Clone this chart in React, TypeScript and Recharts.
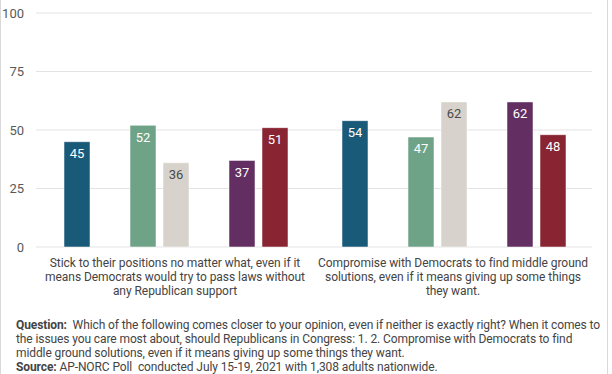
import React from "react";
import { BarChart, Bar, XAxis, YAxis, CartesianGrid, LabelList } from "recharts";

const categories = ["stick", "compromise"];
const categoryLabelLines = [
  [
    "Stick to their positions no matter what, even if it",
    "means Democrats would try to pass laws without",
    "any Republican support",
  ],
  [
    "Compromise with Democrats to find middle ground",
    "solutions, even if it means giving up some things",
    "they want.",
  ],
];
const totalValues = [45, 54];
const democratValues = [52, 47];
const independentValues = [36, 62];
const moderateRepValues = [37, 62];
const conservativeRepValues = [51, 48];
const yTicks = [0, 25, 50, 75, 100];

const data = categories.map((c, i) => ({
  category: c,
  total: totalValues[i],
  democrats: democratValues[i],
  independents: independentValues[i],
  moderateRep: moderateRepValues[i],
  conservativeRep: conservativeRepValues[i],
  gapA: null,
  gapB: null,
}));

const FONT = "Roboto, sans-serif";

const XTick = (props: any) => {
  const { x, y, index } = props;
  const lines = categoryLabelLines[index] || [];
  return (
    <g>
      {lines.map((l, k) => (
        <text
          key={k}
          x={x}
          y={y + 12 + k * 14}
          textAnchor="middle"
          fontFamily={FONT}
          fontSize={12}
          letterSpacing={-0.05}
          fill="#444"
        >
          {l}
        </text>
      ))}
    </g>
  );
};

const labelStyle = (fill: string) => ({
  position: "insideTop" as const,
  offset: 7,
  fill,
  fontSize: 13,
  fontFamily: FONT,
});

export default function App() {
  return (
    <div style={{ position: "absolute", left: 0, top: 0, width: 612, height: 374, background: "#fff", overflow: "hidden" }}>
      <div style={{ position: "absolute", left: 0, top: 0, width: 1, height: 374, background: "#d9d9d9" }} />
      <div style={{ position: "absolute", left: 607, top: 0, width: 1, height: 374, background: "#d9d9d9" }} />
      <BarChart
        width={612}
        height={312}
        data={data}
        margin={{ top: 13, right: 20, bottom: 0, left: 0 }}
        barCategoryGap={28}
        barGap={7}
      >
        <CartesianGrid vertical={false} stroke="#e3e3e3" />
        <XAxis
          dataKey="category"
          axisLine={false}
          tickLine={false}
          height={65}
          tick={<XTick />}
          interval={0}
        />
        <YAxis
          width={36}
          domain={[0, 100]}
          ticks={yTicks}
          axisLine={false}
          tickLine={false}
          tickSize={0}
          tickMargin={12}
          tick={{ fill: "#595959", fontSize: 13, fontFamily: FONT }}
        />
        <Bar dataKey="total" fill="#1a5a79" stroke="#ffffff" strokeOpacity={0.5} isAnimationActive={false}>
          <LabelList dataKey="total" {...labelStyle("#ffffff")} />
        </Bar>
        <Bar dataKey="gapA" fill="transparent" isAnimationActive={false} />
        <Bar dataKey="democrats" fill="#6fa388" stroke="#ffffff" strokeOpacity={0.5} isAnimationActive={false}>
          <LabelList dataKey="democrats" {...labelStyle("#ffffff")} />
        </Bar>
        <Bar dataKey="independents" fill="#d7d2cb" stroke="#ffffff" strokeOpacity={0.5} isAnimationActive={false}>
          <LabelList dataKey="independents" {...labelStyle("#4a4a4a")} />
        </Bar>
        <Bar dataKey="gapB" fill="transparent" isAnimationActive={false} />
        <Bar dataKey="moderateRep" fill="#632f62" stroke="#ffffff" strokeOpacity={0.5} isAnimationActive={false}>
          <LabelList dataKey="moderateRep" {...labelStyle("#ffffff")} />
        </Bar>
        <Bar dataKey="conservativeRep" fill="#892432" stroke="#ffffff" strokeOpacity={0.5} isAnimationActive={false}>
          <LabelList dataKey="conservativeRep" {...labelStyle("#ffffff")} />
        </Bar>
      </BarChart>
      <div
        style={{
          position: "absolute",
          left: 16,
          top: 318,
          width: 590,
          fontFamily: FONT,
          fontSize: 12,
          letterSpacing: -0.1,
          lineHeight: "14px",
          color: "#444",
          whiteSpace: "nowrap",
        }}
      >
        <div>
          <b>Question:</b>&nbsp; Which of the following comes closer to your opinion, even if neither is exactly right? When it comes to
        </div>
        <div>the issues you care most about, should Republicans in Congress: 1. 2. Compromise with Democrats to find</div>
        <div>middle ground solutions, even if it means giving up some things they want.</div>
        <div>
          <b>Source:</b> AP-NORC Poll&nbsp; conducted July 15-19, 2021 with 1,308 adults nationwide.
        </div>
      </div>
    </div>
  );
}
